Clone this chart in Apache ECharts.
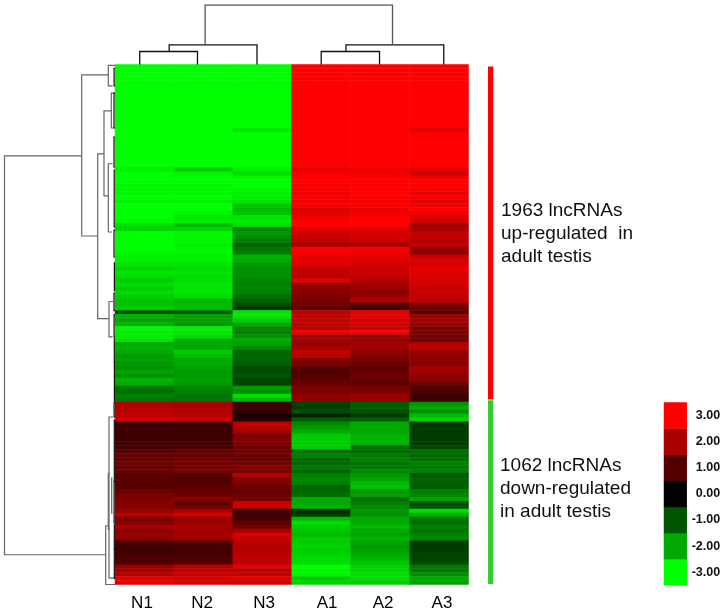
<!DOCTYPE html>
<html><head><meta charset="utf-8">
<style>html,body{margin:0;padding:0;background:#fff}#c{width:725px;height:615px}</style>
<script src="https://cdn.jsdelivr.net/npm/echarts@6/dist/echarts.min.js"></script>
</head><body><div id="c"></div>
<script>
const samples = ['N1','N2','N3','A1','A2','A3'];
const samplePos = [0.458,1.477,2.53,3.6,4.55,5.55];
const N1 = [-3,-3,-3,-3,-3,-3,-3,-3,-3,-3,-3,-3,-3,-3,-3,-3,-3,-3,-3,-3,-3,-3,-3,-3,-3,-3,
 -2.8,-3,-3,-3,-2.9,-2.9,-2.9,-3,-2.8,-3,-3,-3,-3,-2.9,-2.6,-2.5,-3,-3,-3,-3,-3,-2.9,-2.8,-2.8,-2.7,-2.5,-2.7,-2.6,-2.4,-2.6,-2.4,-2.6,-2.4,-2.3,-2.3,-2.4,-1,-2.1,-1.9,-2.1,-2.9,-2.8,-2.8,-2.7,-2,-2.1,-2,-1.8,-1.9,-1.8,-1.7,-1.9,-1.7,-2.1,-2,-1.4,-1.3,-1.5,-1.4,
 2.1,2.1,2.2,2.3,2.5,0.7,0.7,0.8,0.7,0.7,0.7,0.8,1.0,1.2,1.1,1.3,1.1,1.3,1.0,1.1,1.0,1.0,1.3,1.4,1.5,1.6,1.5,1.8,2.2,1.4,1.6,2.0,1.6,1.8,1.7,0.9,0.7,0.7,0.8,0.9,0.9,1.8,1.9,2.1,2.6,2.7];
const N2 = [-3,-3,-3,-3,-3,-3,-3,-3,-3,-3,-3,-3,-3,-3,-3,-3,-3,-3,-3,-3,-3,-3,-3,-3,-3,-3,
 -2.4,-2.9,-3,-3,-2.9,-2.9,-2.9,-3,-2.8,-3,-3,-2.9,-2.7,-2.8,-2.2,-2.5,-2.9,-2.9,-2.9,-2.8,-2.9,-2.9,-2.8,-2.8,-2.7,-2.6,-2.7,-2.6,-2.6,-2.7,-2.7,-2.7,-2.6,-2.1,-2.2,-2.2,-1.1,-1.9,-1.9,-1.8,-2.8,-2.7,-2.6,-2,-2,-2,-2.4,-2.2,-2,-2,-1.9,-1.8,-1.8,-1.9,-1.8,-1.6,-1.5,-1.4,-1.4,
 2.0,2.0,2.1,2.2,2.4,0.7,0.7,0.7,0.8,0.7,0.7,0.8,1.2,1.2,1.3,1.4,1.3,1.4,1.0,1.0,1.0,1.1,1.2,1.3,1.7,1.0,1.4,2.0,2.5,1.7,1.9,2.0,1.9,1.9,1.9,1.0,0.8,0.8,0.8,0.9,1.0,2.1,2.2,2.4,2.5,2.5];
const N3 = [-3,-3,-3,-3,-3,-3,-3,-3,-3,-3,-3,-3,-3,-3,-3,-3,-2.7,-3,-3,-3,-3,-3,-3,-3,-3,-3,
 -2.8,-2.6,-2.9,-3,-3,-2.9,-2.8,-2.8,-2.7,-2.3,-2.2,-2.3,-2.7,-2.8,-2.6,-1.6,-1.8,-1.6,-1.5,-1.1,-1.4,-1.5,-2.1,-2,-1.8,-1.7,-1.7,-1.7,-1.6,-1.5,-1.6,-1.5,-1.3,-1.2,-0.9,-0.6,-2.7,-2.7,-2.4,-2,-1.6,-1.5,-1.7,-2,-1.9,-1.6,-1.2,-1.2,-1.2,-1.1,-0.9,-0.9,-1,-0.8,-0.8,-1.8,-1.7,-2.6,-2.2,
 0.7,0.7,0.6,0.3,0.5,2.2,2.2,1.9,1.4,1.6,1.4,1.3,1.3,1.3,1.1,1.4,1.5,1.4,2.1,1.6,1.5,1.3,1.2,1.3,1.4,2.4,2.4,0.6,0.8,0.8,1.2,1.3,2.0,2.6,2.3,2.2,2.1,2.1,2.2,2.3,2.2,2.7,2.1,2.3,2.7,2.4];
const A1 = [3,3,3,3,3,3,3,3,3,3,3,3,3,3,3,3,3,3,3,3,3,3,3,3,3,3,
 2.7,2.9,3,3,2.9,2.9,2.8,2.9,2.8,2.9,2.6,2.7,2.8,3,3,2.6,2.4,2.4,2.2,1.9,3,2.9,2.7,2.7,2.6,2.3,2.3,2.2,2.7,1.7,1.7,1.6,1.5,1.4,1.3,1.1,2.2,2.3,2.3,2.2,2.2,2.9,1.9,1.9,1.8,1.9,2.3,2.2,1.5,1.5,1,0.9,1,1.1,1.2,1.5,1.4,1.7,1.7,
 -0.8,-0.7,-0.9,-0.4,-1.1,-1.6,-1.8,-2,-2.4,-2.4,-2.4,-2.4,-1.3,-1.5,-1.2,-1.2,-1.4,-1.2,-1.5,-1.6,-1.5,-1.2,-1.2,-1.3,-2,-2,-2.1,-0.6,-0.7,-2.2,-2.6,-2.4,-2.3,-2.2,-2.4,-2.4,-2.5,-2.4,-2.5,-2.6,-2.6,-3,-2.9,-2.9,-2.4,-2.5];
const A2 = [3,3,3,3,3,3,3,3,3,3,3,3,3,3,3,3,3,3,3,3,3,3,3,3,3,3,
 2.8,2.9,3,3,3,3,3,2.9,2.9,2.9,2.8,2.8,3,3,3,2.6,2.5,2.5,2.3,1.9,2.9,2.8,2.7,2.6,2.4,2.4,2.4,2.3,2.1,1.9,1.8,1.7,1.8,2.1,1,0.8,2.7,2.7,2.5,2.5,2.4,3,1.8,1.8,1.9,1.9,1.7,1.6,1.4,1.3,1.1,1.2,1.3,1.2,1.1,1.4,1.5,1.8,1.8,
 -1.1,-1.1,-1,-0.7,-1.1,-2,-2,-2,-2.1,-2.1,-2.1,-1.3,-1.2,-1.4,-1.5,-1.3,-1.4,-1.6,-1.8,-1.9,-2.2,-2.3,-1.8,-1.9,-1.3,-1.5,-1.6,-1.8,-1.7,-2,-2,-2.2,-2,-1.9,-2.1,-1.9,-1.8,-1.9,-2,-2.1,-2.3,-2.5,-2.5,-2.6,-2.6,-2.4];
const A3 = [3,3,3,3,3,3,3,3,3,3,3,3,3,3,3,3,2.7,3,3,3,3,3,3,3,3,3,
 2.7,2.4,2.8,3,2.9,2.9,2.7,2.9,2.6,2.8,3,2.8,2.6,2.5,1.9,2,2.3,2.3,2.1,2.3,1.8,1.7,2.4,2.6,2.5,2.7,2.6,2.6,2.5,2.5,2.3,2.4,2.3,2.3,1.5,1.3,1,1.9,1.9,1.8,1.5,1.5,1.4,1.3,2.1,2.2,1.8,1.7,1.7,1.5,1.9,1.9,1.7,1.7,1.3,0.9,0.9,0.7,0.7,
 -1.7,-2,-1.7,-2.2,-2.5,-0.7,-0.7,-0.7,-0.7,-0.7,-0.7,-0.8,-1.3,-1.2,-1.3,-1.5,-1.4,-1.5,-1,-1.2,-1.1,-1.1,-1.5,-1.6,-1.9,-0.9,-1,-2.6,-2,-1.4,-1.3,-1.5,-1.4,-1.5,-1.6,-0.7,-0.7,-0.7,-0.8,-0.8,-0.9,-1.4,-1.4,-1.7,-2,-1.9];
const columns = [N1,N2,N3,A1,A2,A3];
const legendValues = [-3,-2,-1,0,1,2,3];
const legendLabels = ['-3.00','-2.00','-1.00','0.00','1.00','2.00','3.00'];
// dendrogram merges: [position of child 1, height of child 1, position of child 2, height of child 2, merge height]
const sampleTree = [[0.42,0,1.40,0,13],[0.92,13,2.41,0,19.7],[3.5,0,4.49,0,13],[3.92,13,5.58,0,19.7],[1.53,19.7,4.71,19.7,59.3]];
const geneTreeOuter = [[23.0,33.3,123.5,9.3,110.5],[2.6,6.7,43.2,17.3,33.3],[0.2,0,5.4,2.5,6.7],[22.5,11,64,6,17.3],[11.7,3.7,33.1,6.7,11],[7.2,0.8,16,1,3.7],[25,2.5,42.2,3,6.7],[59.7,2,68.6,2.5,6],[116.2,6,131,0,9.3],[88.8,2,129.4,0,6],[103,5.5,117,5.5,6.7],[104.2,2.5,113,2.5,3.3]];
const geneTreeInner = [[1,0,5.4,0,0.9],[7.2,0,16,0,1.0],[18.3,0,25.8,0,1.0],[26.6,0,40.9,0,0.8],[41.7,0,48.5,0,1.0],[50,0,57,0,0.6],[57.6,0,62,0,1.0],[63,0,68.6,0,0.9],[69,0,75,0,0.7],[75,0,84.8,0,0.6],[85.2,0,88.8,0,0.9],[89.6,0,105,0,0.7],[105,0,115.5,0,0.9],[116,0,122,0,0.7],[122,0,129.4,0,0.7]];
const groupSpans = [[0.5,84.4,'#ff0000'],[84.6,130.9,'#33cc33']];
const rowCount = 131;

const heatData = [];
columns.forEach((col,c)=>col.forEach((v,r)=>heatData.push([c,r,v])));
const rowNames = []; for(let i=0;i<rowCount;i++) rowNames.push(String(i));

function treeTop(params,api){
  const a=api.coord([api.value(0),api.value(1)]),b=api.coord([api.value(0),api.value(4)]),
        c=api.coord([api.value(2),api.value(4)]),d=api.coord([api.value(2),api.value(3)]);
  return {type:'polyline',shape:{points:[a,b,c,d]},style:{stroke:params.dataIndex===4?'#555':'#111',lineWidth:1.3,fill:'none'}};
}
function treeLeft(color){return function(params,api){
  const a=api.coord([api.value(1),api.value(0)]),b=api.coord([api.value(4),api.value(0)]),
        c=api.coord([api.value(4),api.value(2)]),d=api.coord([api.value(3),api.value(2)]);
  return {type:'polyline',shape:{points:[a,b,c,d]},style:{stroke:color,lineWidth:1.2,fill:'none'}};
};}
function spanRect(params,api){
  const a=api.coord([0,api.value(0)]),b=api.coord([1,api.value(1)]);
  return {type:'rect',shape:{x:a[0],y:a[1],width:b[0]-a[0],height:b[1]-a[1]},style:{fill:api.value(2)}};
}
const hidden={show:false};
const chart=echarts.init(document.getElementById('c'),null,{renderer:'canvas'});
chart.setOption({
  animation:false,backgroundColor:'#fff',
  grid:[
    {left:115,top:64.5,width:353.5,height:520},
    {left:664,top:402.5,width:22.7,height:182.7},
    {left:115,top:4,width:353.5,height:60.5},
    {left:4.5,top:64.5,width:110.5,height:520},
    {left:488,top:64.5,width:5.3,height:520},
    {left:115,top:590,width:353.5,height:24}
  ],
  xAxis:[
    {type:'category',gridIndex:0,data:samples,show:false},
    {type:'category',gridIndex:1,data:['scale'],show:false},
    {type:'value',gridIndex:2,min:0,max:6,show:false},
    {type:'value',gridIndex:3,min:0,max:110.5,inverse:true,show:false},
    {type:'value',gridIndex:4,min:0,max:1,show:false},
    {type:'value',gridIndex:5,min:0,max:6,show:false}
  ],
  yAxis:[
    {type:'category',gridIndex:0,data:rowNames,inverse:true,show:false},
    {type:'category',gridIndex:1,data:legendLabels,position:'right',
     axisLine:hidden,axisTick:hidden,splitLine:hidden,
     axisLabel:{align:'right',margin:33.5,fontFamily:'Liberation Sans',fontWeight:'bold',fontSize:12.5,color:'#111',interval:0}},
    {type:'value',gridIndex:2,min:0,max:60.5,show:false},
    {type:'value',gridIndex:3,min:0,max:131,inverse:true,show:false},
    {type:'value',gridIndex:4,min:0,max:131,inverse:true,show:false},
    {type:'value',gridIndex:5,min:0,max:1,show:false}
  ],
  visualMap:{show:false,type:'continuous',min:-3,max:3,seriesIndex:[0,1],dimension:2,
    inRange:{color:['#00ff00','#000000','#ff0000']}},
  series:[
    {type:'heatmap',xAxisIndex:0,yAxisIndex:0,data:heatData,progressive:0,silent:true,emphasis:{disabled:true}},
    {type:'heatmap',xAxisIndex:1,yAxisIndex:1,data:legendValues.map((v,i)=>[0,i,v]),silent:true,emphasis:{disabled:true}},
    {type:'custom',xAxisIndex:2,yAxisIndex:2,data:sampleTree,renderItem:treeTop,silent:true,clip:false},
    {type:'custom',xAxisIndex:3,yAxisIndex:3,data:geneTreeOuter,renderItem:treeLeft('#666'),silent:true,clip:false},
    {type:'custom',xAxisIndex:3,yAxisIndex:3,data:geneTreeInner,renderItem:treeLeft('#111'),silent:true,clip:false},
    {type:'custom',xAxisIndex:4,yAxisIndex:4,data:groupSpans,renderItem:spanRect,silent:true,clip:false},
    {type:'scatter',xAxisIndex:5,yAxisIndex:5,symbolSize:1,itemStyle:{opacity:1,color:'rgba(0,0,0,0)'},silent:true,
     data:samples.map((s,i)=>({name:s,value:[samplePos[i],0.45]})),
     label:{show:true,position:'inside',formatter:'{b}',fontFamily:'Liberation Sans',fontSize:17,color:'#000',opacity:1}}
  ],
  graphic:[
    {type:'text',left:501,top:199,style:{text:'1963 lncRNAs\nup-regulated  in\nadult testis',font:'19px "Liberation Sans"',fill:'#111',lineHeight:23}},
    {type:'text',left:500,top:454.5,style:{text:'1062 lncRNAs\ndown-regulated\nin adult testis',font:'19px "Liberation Sans"',fill:'#111',lineHeight:23}}
  ]
});
</script></body></html>
